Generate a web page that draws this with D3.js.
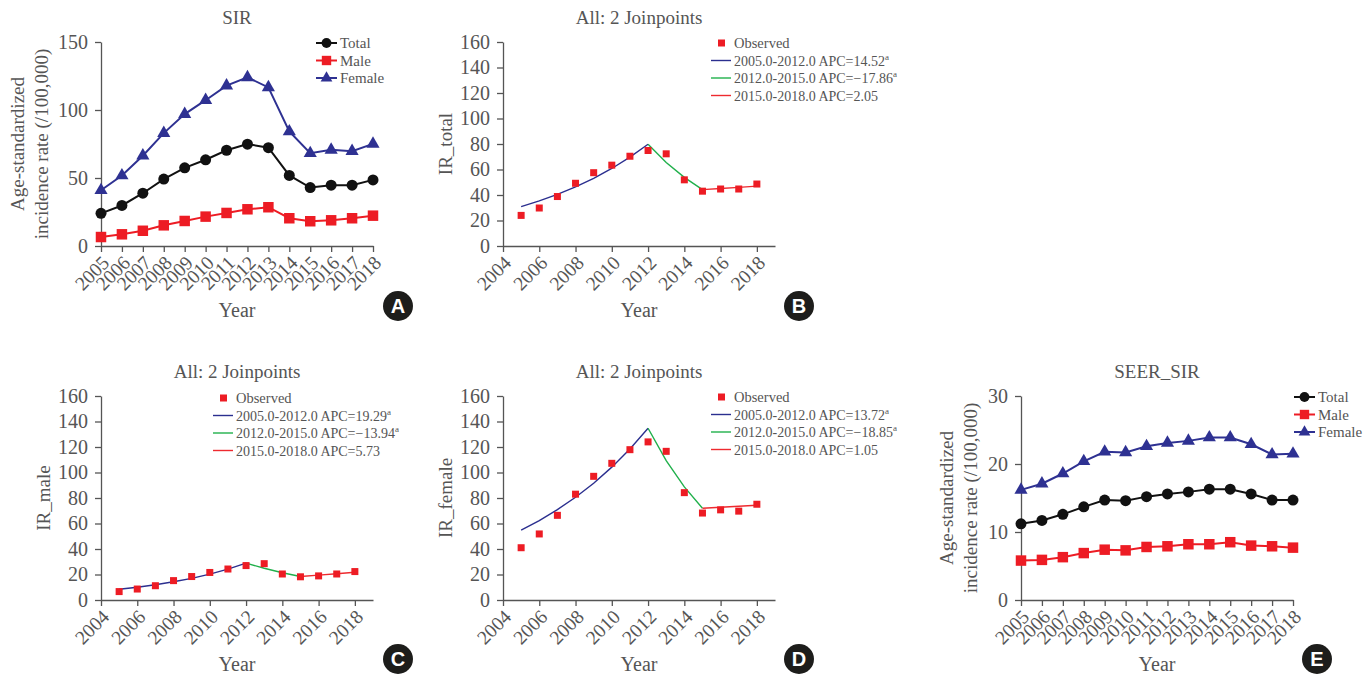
<!DOCTYPE html>
<meta charset="utf-8">
<style>
    html,
    body {
        margin: 0;
        padding: 0;
        background: #fff;
    }

    text {
        font-family: "Liberation Serif", "Times New Roman", serif;
        fill: #555;
    }

    .axis path,
    .axis line {
        stroke: #555;
        stroke-width: 1.3px;
    }
</style>
<svg id="canvas"></svg>
<script src="https://d3js.org/d3.v7.min.js"></script>
<script>
    // ---- data ----
    const years = [2005, 2006, 2007, 2008, 2009, 2010, 2011, 2012, 2013, 2014, 2015, 2016, 2017, 2018];

    // A: SIR
    const sirTotal = [24.0, 29.8, 38.8, 49.2, 57.5, 63.4, 70.4, 74.9, 72.3, 51.9, 43.0, 44.7, 44.7, 48.6];
    const sirMale = [6.6, 8.6, 11.2, 15.2, 18.4, 21.6, 24.3, 27.0, 28.5, 20.4, 18.2, 18.9, 20.4, 22.3];
    const sirFemale = [41.0, 51.8, 66.4, 83.0, 97.0, 107.2, 117.9, 124.0, 116.6, 84.2, 68.2, 70.7, 69.7, 75.1];

    // E: SEER_SIR
    const seerTotal = [11.2, 11.7, 12.6, 13.7, 14.7, 14.6, 15.2, 15.6, 15.9, 16.3, 16.3, 15.6, 14.7, 14.7];
    const seerMale = [5.8, 5.9, 6.3, 6.9, 7.4, 7.3, 7.8, 7.9, 8.2, 8.2, 8.5, 8.0, 7.9, 7.7];
    const seerFemale = [16.2, 17.1, 18.6, 20.4, 21.8, 21.7, 22.6, 23.1, 23.4, 23.9, 23.9, 22.9, 21.4, 21.5];

    // B-D: joinpoint fitted values by year
    const fitTotal = [30.9, 35.4, 40.5, 46.4, 53.1, 60.8, 69.7, 79.8, 65.5, 53.8, 44.2, 45.1, 46.0, 47.0];
    const fitMale = [8.4, 10.0, 12.0, 14.3, 17.0, 20.3, 24.2, 28.9, 24.9, 21.4, 18.4, 19.5, 20.6, 21.8];
    const fitFemale = [54.8, 62.3, 70.9, 80.6, 91.6, 104.2, 118.5, 134.7, 109.3, 88.7, 72.0, 72.8, 73.5, 74.3];

    const segments = [[2005, 2012], [2012, 2015], [2015, 2018]];
    const apcTotal = ["14.52", "\u221217.86", "2.05"];
    const apcMale = ["19.29", "\u221213.94", "5.73"];
    const apcFemale = ["13.72", "\u221218.85", "1.05"];
    const apcSignif = [true, true, false];

    const yearTicks = [2004, 2006, 2008, 2010, 2012, 2014, 2016, 2018];
    const sirTicks = [0, 50, 100, 150];
    const irTicks = [0, 20, 40, 60, 80, 100, 120, 140, 160];
    const seerTicks = [0, 10, 20, 30];

    // ---- drawing ----
    var svg = d3.select("#canvas").attr("width", 1370).attr("height", 674);

    var serif = "'Liberation Serif', 'Times New Roman', serif";
    var segColors = ["#2b2f8f", "#20b04b", "#ee2a2f"];
    var seriesStyle = {
        Total: { color: "#111", shape: d3.symbolCircle, size: 95 },
        Male: { color: "#ed1c24", shape: d3.symbolSquare, size: 110 },
        Female: { color: "#2e3192", shape: d3.symbolTriangle, size: 75 }
    };

    function frame(o) {
        var g = svg.append("g");
        var x = d3.scaleLinear().domain(o.xDomain).range([o.left, o.right]);
        var y = d3.scaleLinear().domain(o.yDomain).range([o.bottom, o.top]);

        var xa = g.append("g").attr("class", "axis")
            .attr("transform", `translate(0,${o.bottom})`)
            .call(d3.axisBottom(x).tickValues(o.xTicks).tickSize(6).tickSizeOuter(0).tickFormat(d3.format("d")));
        xa.attr("font-family", serif).attr("font-size", 19.5);
        xa.selectAll(".tick text")
            .attr("fill", "#555")
            .attr("text-anchor", "end")
            .attr("y", 0).attr("dy", 0)
            .attr("transform", "translate(9,18) rotate(-45)");
        var ya = g.append("g").attr("class", "axis")
            .attr("transform", `translate(${o.left},0)`)
            .call(d3.axisLeft(y).tickValues(o.yTicks).tickSize(6).tickSizeOuter(0));
        ya.attr("font-family", serif).attr("font-size", 20);
        ya.selectAll(".tick text").attr("fill", "#555").attr("x", -13);

        var cx = (o.left + o.right) / 2;
        g.append("text").attr("x", cx).attr("y", o.top - 18)
            .attr("text-anchor", "middle").style("font-size", "19px").text(o.title);
        g.append("text").attr("x", cx).attr("y", o.bottom + 71)
            .attr("text-anchor", "middle").style("font-size", "20px").text("Year");

        var ly = g.append("text")
            .attr("transform", `translate(${o.yLabelX},${(o.top + o.bottom) / 2}) rotate(-90)`)
            .attr("text-anchor", "middle").style("font-size", "19px");
        o.yLabel.forEach(function(line, i) {
            ly.append("tspan").attr("x", 0).attr("dy", i === 0 ? 0 : 24).text(line);
        });

        // panel badge
        g.append("circle").attr("cx", o.badge[0]).attr("cy", o.badge[1]).attr("r", 15).attr("fill", "#1d1d1b");
        g.append("text").attr("x", o.badge[0]).attr("y", o.badge[1] + 7)
            .attr("text-anchor", "middle")
            .style("font-family", "'Liberation Sans', Arial, sans-serif")
            .style("font-weight", "bold").style("font-size", "20px").style("fill", "#fff")
            .text(o.letter);
        return { g: g, x: x, y: y };
    }

    function seriesPanel(o, series) {
        var p = frame(o);
        var line = d3.line().x((d, i) => p.x(years[i])).y(d => p.y(d));
        series.forEach(function(s) {
            var st = seriesStyle[s.name];
            p.g.append("path").datum(s.values)
                .attr("d", line).attr("fill", "none")
                .attr("stroke", st.color).attr("stroke-width", 2);
            p.g.selectAll(null).data(s.values).enter().append("path")
                .attr("d", d3.symbol().type(st.shape).size(st.size))
                .attr("transform", (d, i) => `translate(${p.x(years[i])},${p.y(d)})`)
                .attr("fill", st.color);
        });
        // legend
        series.forEach(function(s, i) {
            var st = seriesStyle[s.name];
            var ly = o.legend[1] + i * 17.5;
            p.g.append("line").attr("x1", o.legend[0]).attr("x2", o.legend[0] + 21)
                .attr("y1", ly).attr("y2", ly).attr("stroke", st.color).attr("stroke-width", 2);
            p.g.append("path").attr("d", d3.symbol().type(st.shape).size(st.size * 0.8))
                .attr("transform", `translate(${o.legend[0] + 10.5},${ly})`).attr("fill", st.color);
            p.g.append("text").attr("x", o.legend[0] + 24).attr("y", ly + 5)
                .style("font-size", "15px").text(s.name);
        });
    }

    function joinpointPanel(o, observed, fitted, apc) {
        var p = frame(o);
        var line = d3.line().x(d => p.x(d.year)).y(d => p.y(d.v));
        var pts = years.map((yr, i) => ({ year: yr, v: fitted[i] }));
        segments.forEach(function(seg, k) {
            p.g.append("path")
                .datum(pts.filter(d => d.year >= seg[0] && d.year <= seg[1]))
                .attr("d", line).attr("fill", "none")
                .attr("stroke", segColors[k]).attr("stroke-width", 1.4);
        });
        p.g.selectAll(null).data(observed).enter().append("rect")
            .attr("x", (d, i) => p.x(years[i]) - 3.5).attr("y", d => p.y(d) - 3.5)
            .attr("width", 7).attr("height", 7).attr("fill", "#ed1c24");

        // legend
        var lx = o.legend[0], l0 = o.legend[1];
        p.g.append("rect").attr("x", lx + 7).attr("y", l0 - 3.5).attr("width", 7).attr("height", 7).attr("fill", "#ed1c24");
        p.g.append("text").attr("x", lx + 23).attr("y", l0 + 5).style("font-size", "14.5px").text("Observed");
        segments.forEach(function(seg, k) {
            var ly = l0 + 17.5 * (k + 1);
            p.g.append("line").attr("x1", lx).attr("x2", lx + 20).attr("y1", ly).attr("y2", ly)
                .attr("stroke", segColors[k]).attr("stroke-width", 1.4);
            var t = p.g.append("text").attr("x", lx + 23).attr("y", ly + 5).style("font-size", "14px")
                .text(`${seg[0]}.0-${seg[1]}.0 APC=${apc[k]}`);
            if (apcSignif[k]) {
                t.append("tspan").attr("dy", -6).style("font-size", "9px").text("a");
            }
        });
    }

    seriesPanel({
        title: "SIR", letter: "A",
        left: 101, right: 373, top: 42, bottom: 246,
        xDomain: [2005, 2018], xTicks: years,
        yDomain: [0, 150], yTicks: sirTicks,
        yLabel: ["Age-standardized", "incidence rate (/100,000)"], yLabelX: 24,
        legend: [316, 43], badge: [398, 306]
    }, [
        { name: "Total", values: sirTotal },
        { name: "Male", values: sirMale },
        { name: "Female", values: sirFemale }
    ]);

    joinpointPanel({
        title: "All: 2 Joinpoints", letter: "B",
        left: 503, right: 775, top: 42, bottom: 246,
        xDomain: [2004, 2019], xTicks: yearTicks,
        yDomain: [0, 160], yTicks: irTicks,
        yLabel: ["IR_total"], yLabelX: 452,
        legend: [711, 43], badge: [799, 306]
    }, sirTotal, fitTotal, apcTotal);

    joinpointPanel({
        title: "All: 2 Joinpoints", letter: "C",
        left: 101, right: 373, top: 396, bottom: 600,
        xDomain: [2004, 2019], xTicks: yearTicks,
        yDomain: [0, 160], yTicks: irTicks,
        yLabel: ["IR_male"], yLabelX: 50,
        legend: [213, 398], badge: [398, 659]
    }, sirMale, fitMale, apcMale);

    joinpointPanel({
        title: "All: 2 Joinpoints", letter: "D",
        left: 503, right: 775, top: 396, bottom: 600,
        xDomain: [2004, 2019], xTicks: yearTicks,
        yDomain: [0, 160], yTicks: irTicks,
        yLabel: ["IR_female"], yLabelX: 452,
        legend: [711, 397], badge: [799, 659]
    }, sirFemale, fitFemale, apcFemale);

    seriesPanel({
        title: "SEER_SIR", letter: "E",
        left: 1021, right: 1293, top: 396, bottom: 600,
        xDomain: [2005, 2018], xTicks: years,
        yDomain: [0, 30], yTicks: seerTicks,
        yLabel: ["Age-standardized", "incidence rate (/100,000)"], yLabelX: 953,
        legend: [1294, 397], badge: [1317, 659]
    }, [
        { name: "Total", values: seerTotal },
        { name: "Male", values: seerMale },
        { name: "Female", values: seerFemale }
    ]);
</script>
